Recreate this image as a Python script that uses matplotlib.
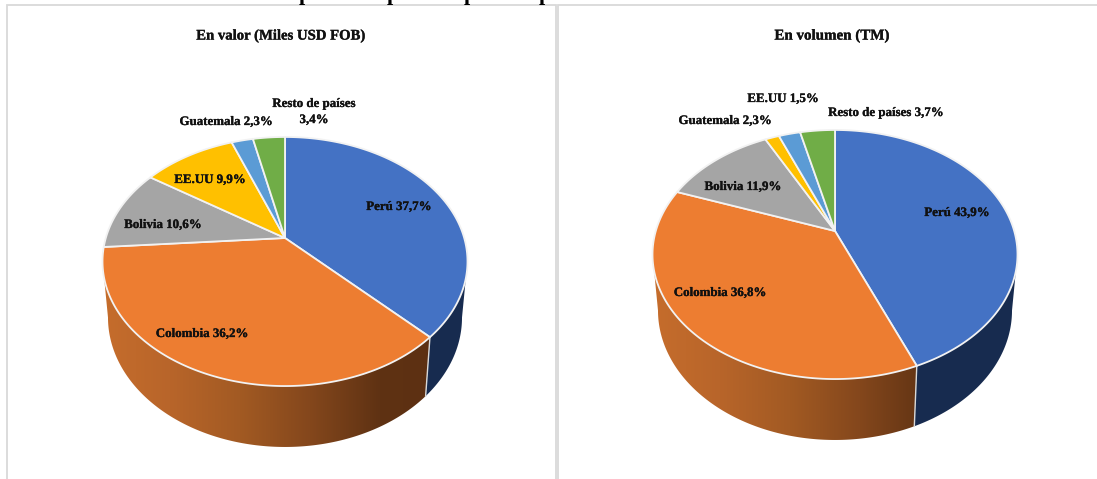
import numpy as np
import matplotlib
matplotlib.use("Agg")
import matplotlib.pyplot as plt
import matplotlib.patheffects as pe
from matplotlib.colors import LinearSegmentedColormap
from matplotlib.patches import Polygon, Rectangle

W, H = 1097, 479

# ---- data ----
categories = ["Perú", "Colombia", "Bolivia", "EE.UU", "Guatemala", "Resto de países"]
valor = [37.7, 36.2, 10.6, 9.9, 2.3, 3.4]
volumen = [43.9, 36.8, 11.9, 1.5, 2.3, 3.7]
colors = ["#4472C4", "#ED7D31", "#A5A5A5", "#FFC000", "#5B9BD5", "#70AD47"]
side_dark = ["#172B4F", "#5A2F10", "#555555", "#7A5C00", "#2E4F6E", "#375623"]
titles = ["En valor (Miles USD FOB)", "En volumen (TM)"]
labels_valor = ["Perú 37,7%", "Colombia 36,2%", "Bolivia 10,6%", "EE.UU 9,9%",
                "Guatemala 2,3%", "Resto de países\n3,4%"]
labels_volumen = ["Perú 43,9%", "Colombia 36,8%", "Bolivia 11,9%", "EE.UU 1,5%",
                  "Guatemala 2,3%", "Resto de países 3,7%"]

plt.rcParams["font.family"] = ["Liberation Serif", "DejaVu Sans"]

fig = plt.figure(figsize=(W / 100, H / 100), dpi=100, facecolor="white")
ax = fig.add_axes([0, 0, 1, 1])
ax.set_xlim(0, W)
ax.set_ylim(H, 0)
ax.axis("off")

orange_side = LinearSegmentedColormap.from_list(
    "o", ["#C66D2C", "#B8652A", "#A25A23", "#84471C", "#5F3213", "#5C2F12"])

RX, RY, K = 179.2, 120.1, -0.1888
SX, SY, SHIFT = 0.97, 1.04, 55
thick = [pe.withStroke(linewidth=0.2, foreground="#111111")]


def project(theta):
    X, Y = np.sin(theta), -np.cos(theta)
    d = 1 + K * Y
    return RX * X / d, RY * Y / d


_g = np.linspace(0, 2 * np.pi, 3601)
_gx = project(_g)[0]
TH_R, TH_L = _g[np.argmax(_gx)], _g[np.argmin(_gx)]


def draw_pie(values, cx, cy, texts, label_xy):
    fr = np.cumsum([0] + list(values)) / sum(values)
    # side walls: only the front part of the rim, between the two widest points
    for i in range(len(values)):
        a = max(fr[i] * 2 * np.pi, TH_R)
        b = min(fr[i + 1] * 2 * np.pi, TH_L)
        if b <= a:
            continue
        th = np.linspace(a, b, 200)
        x, y = project(th)
        xs = np.r_[x, (x * SX)[::-1]]
        ys = np.r_[y, (y * SY + SHIFT)[::-1]]
        pts = np.c_[cx + xs, cy + ys]
        if i == 1:
            poly = Polygon(pts, closed=True, fc="none", ec="none", zorder=2)
            ax.add_patch(poly)
            grad = np.linspace(0, 1, 256)[None, :]
            im = ax.imshow(grad, cmap=orange_side, aspect="auto", zorder=2,
                           extent=(cx - RX * 1.03, cx + RX * 0.92, cy + 300, cy - 100))
            im.set_clip_path(poly)
        else:
            ax.add_patch(Polygon(pts, closed=True, fc=side_dark[i], ec="none", zorder=2))
    # light seam between the two front walls
    x0, y0 = project(fr[1] * 2 * np.pi)
    ax.plot([cx + x0, cx + x0 * SX], [cy + y0, cy + y0 * SY + SHIFT],
            color="#D9D9D9", lw=1.0, zorder=3)
    # top faces
    for i in range(len(values)):
        th = np.linspace(fr[i], fr[i + 1], 200) * 2 * np.pi
        x, y = project(th)
        pts = np.r_[[[cx, cy]], np.c_[cx + x, cy + y]]
        ax.add_patch(Polygon(pts, closed=True, fc=colors[i], ec="#F2F2F2", lw=1.3,
                             joinstyle="round", zorder=4))
    for t, (lx, ly) in zip(texts, label_xy):
        ax.text(lx, ly, t, ha="center", va="center", fontsize=9.3, fontweight="bold",
                color="#111111", linespacing=1.45, zorder=6, path_effects=thick)


# panel frames
for x0, x1 in [(6.5, 555.5), (557.5, 1110)]:
    ax.add_patch(Rectangle((x0, 5), x1 - x0, 500, fc="white", ec="#D9D9D9", lw=1.3, zorder=1))

# descenders of a heading cut off by the top of the picture
for px in [305, 393, 470, 545]:
    ax.text(px, -0.5, "p", ha="center", va="baseline", fontsize=16, fontweight="bold",
            color="black", zorder=7)

draw_pie(valor, 285, 238, labels_valor,
         [(399, 207), (202, 334), (163, 225), (210, 180), (226, 122), (314, 112)])
draw_pie(volumen, 835, 231, labels_volumen,
         [(957, 213), (720, 293), (743, 187), (783, 99), (725, 121), (886, 113)])

ax.set_xlim(0, W)
ax.set_ylim(H, 0)

ax.text(281, 36, titles[0], ha="center", va="center", fontsize=10.6, fontweight="bold",
        color="#111111", path_effects=thick)
ax.text(832, 36, titles[1], ha="center", va="center", fontsize=10.8, fontweight="bold",
        color="#111111", path_effects=thick)

fig.savefig("out.png", dpi=100)
